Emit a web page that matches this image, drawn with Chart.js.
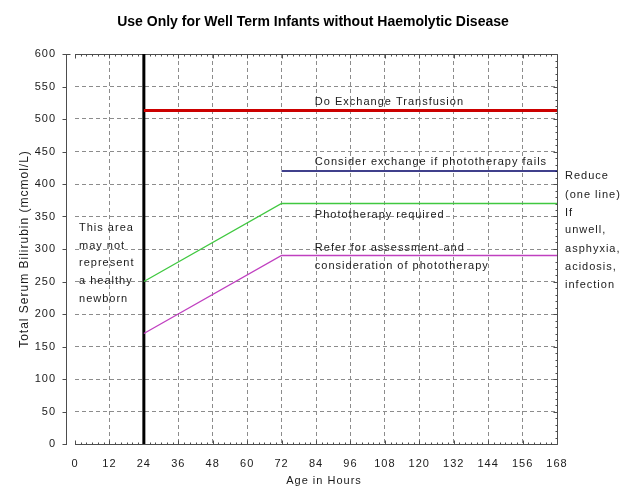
<!DOCTYPE html>
<html>
<head>
<meta charset="utf-8">
<script src="https://cdn.jsdelivr.net/npm/chart.js@4"></script>
<style>
  html, body { margin: 0; padding: 0; background: #fff; }
  canvas { display: block; }
</style>
</head>
<body>
<canvas id="c" width="640" height="502"></canvas>
<script>
// ---- data ----
const titleText = 'Use Only for Well Term Infants without Haemolytic Disease';
const xTitle = 'Age in Hours';
const yTitle = 'Total Serum Bilirubin (mcmol/L)';
const xTicks = [0, 12, 24, 36, 48, 60, 72, 84, 96, 108, 120, 132, 144, 156, 168];
const yTicks = [0, 50, 100, 150, 200, 250, 300, 350, 400, 450, 500, 550, 600];

const exchangeHours = [24, 168];
const exchangeValues = [513, 513];
const considerHours = [72, 168];
const considerValues = [420, 420];
const phototherapyHours = [24, 72, 168];
const phototherapyValues = [250, 370, 370];
const referHours = [24, 72, 168];
const referValues = [170, 290, 290];
const cutoffHours = [24, 24];
const cutoffValues = [0, 600];

const zoneLabels = ['Do Exchange Transfusion', 'Consider exchange if phototherapy fails', 'Phototherapy required', 'Refer for assessment and', 'consideration of phototherapy'];
const leftNote = ['This area', 'may not', 'represent', 'a healthy', 'newborn'];
const rightNote = ['Reduce', '(one line)', 'If', 'unwell,', 'asphyxia,', 'acidosis,', 'infection'];

function pts(xs, ys) { return xs.map((x, i) => ({ x: x, y: ys[i] })); }

const FONT = '"Liberation Sans", Arial, sans-serif';
const TEXT = '#1a1a1a';
const AXIS = '#4d4d4d';

const spacingPlugin = {
  id: 'spacing',
  beforeLayout(chart) { chart.ctx.letterSpacing = '1px'; },
  beforeDraw(chart) { chart.ctx.letterSpacing = '1px'; },
  beforeDatasetsDraw(chart) {
    const { ctx, chartArea: a, scales: { x, y } } = chart;
    ctx.save();
    ctx.strokeStyle = AXIS;
    ctx.lineWidth = 1;
    ctx.setLineDash([]);
    // top border with minor ticks
    const top = Math.round(a.top) + 0.5, right = Math.round(a.right) + 0.5, bottom = Math.round(a.bottom) + 0.5;
    ctx.beginPath();
    ctx.moveTo(a.left, top); ctx.lineTo(right, top);
    ctx.moveTo(right, top); ctx.lineTo(right, bottom);
    ctx.moveTo(a.left, bottom); ctx.lineTo(right, bottom);
    for (let h = 0; h <= 168; h += 2) {
      const px = Math.round(x.getPixelForValue(h)) + 0.5;
      const len = (h % 12 === 0) ? 4 : 2;
      ctx.moveTo(px, top); ctx.lineTo(px, top + len);
      ctx.moveTo(px, bottom); ctx.lineTo(px, bottom - len);
    }
    for (let v = 0; v <= 600; v += 10) {
      const py = Math.round(y.getPixelForValue(v)) + 0.5;
      const len = (v % 50 === 0) ? 4 : 2;
      ctx.moveTo(right, py); ctx.lineTo(right - len, py);
    }
    // detached y axis
    const ax = Math.round(a.left) - 9 + 0.5;
    ctx.moveTo(ax, Math.round(y.getPixelForValue(600))); ctx.lineTo(ax, Math.round(y.getPixelForValue(0)) + 1);
    yTicks.forEach(v => {
      const py = Math.round(y.getPixelForValue(v)) + 0.5;
      ctx.moveTo(ax - 4, py); ctx.lineTo(ax + (v === 600 ? 4 : 0), py);
    });
    ctx.stroke();
    ctx.restore();
  },
  afterDraw(chart) {
    const { ctx, chartArea: a, scales: { x, y } } = chart;
    ctx.save();
    ctx.letterSpacing = '0px';
    ctx.fillStyle = '#000';
    ctx.font = 'bold 14px ' + FONT;
    ctx.textAlign = 'center';
    ctx.textBaseline = 'middle';
    ctx.fillText(titleText, 313, 22);

    ctx.letterSpacing = '1px';
    ctx.font = '11px ' + FONT;
    ctx.fillStyle = TEXT;
    ctx.fillText(xTitle, 324, 481);

    ctx.textAlign = 'left';
    const zoneY = [526, 434, 353, 302, 274];
    zoneLabels.forEach((t, i) => ctx.fillText(t, x.getPixelForValue(83.6), y.getPixelForValue(zoneY[i])));
    const leftY = [333, 305, 278, 251, 223];
    leftNote.forEach((t, i) => ctx.fillText(t, x.getPixelForValue(1.4), y.getPixelForValue(leftY[i])));
    const rightY = [412, 383, 356, 329, 300, 273, 244];
    rightNote.forEach((t, i) => ctx.fillText(t, x.getPixelForValue(170.8), y.getPixelForValue(rightY[i])));
    ctx.restore();
  }
};

const gridColor = '#8c8c8c';

new Chart(document.getElementById('c'), {
  type: 'line',
  data: {
    datasets: [
      { data: pts(referHours, referValues), borderColor: '#c040c0', borderWidth: 1.3 },
      { data: pts(phototherapyHours, phototherapyValues), borderColor: '#40c840', borderWidth: 1.3 },
      { data: pts(considerHours, considerValues), borderColor: '#000066', borderWidth: 1.5 },
      { data: pts(exchangeHours, exchangeValues), borderColor: '#cc0000', borderWidth: 3 },
      { data: pts(cutoffHours, cutoffValues), borderColor: '#000000', borderWidth: 3 }
    ]
  },
  options: {
    responsive: false,
    animation: false,
    devicePixelRatio: 1,
    layout: { padding: { top: 54, right: 83, bottom: 0, left: 0 } },
    elements: { point: { radius: 0, hoverRadius: 0 }, line: { tension: 0 } },
    plugins: { legend: { display: false }, tooltip: { enabled: false }, title: { display: false } },
    events: [],
    scales: {
      x: {
        type: 'linear', min: 0, max: 168,
        afterBuildTicks(s) { s.ticks = xTicks.map(v => ({ value: v })); },
        afterFit(s) { s.height = 58; },
        ticks: { color: TEXT, font: { family: FONT, size: 11 }, padding: 13, maxRotation: 0, autoSkip: false },
        grid: {
          drawTicks: false,
          color: c => (c.tick && (c.tick.value === 0 || c.tick.value === 168)) ? 'rgba(0,0,0,0)' : gridColor,
          lineWidth: 1
        },
        border: { display: false, dash: [4, 3] }
      },
      y: {
        type: 'linear', min: 0, max: 600,
        afterBuildTicks(s) { s.ticks = yTicks.map(v => ({ value: v })); },
        afterFit(s) { s.width = 75; },
        ticks: { color: TEXT, font: { family: FONT, size: 11 }, padding: 19 },
        grid: {
          drawTicks: false,
          color: c => (c.tick && (c.tick.value === 0 || c.tick.value === 600)) ? 'rgba(0,0,0,0)' : gridColor,
          lineWidth: 1
        },
        border: { display: false, dash: [4, 3] },
        title: { display: true, text: yTitle, color: TEXT, font: { family: FONT, size: 12 }, padding: { top: 17, bottom: 0 } }
      }
    }
  },
  plugins: [spacingPlugin]
});
</script>
</body>
</html>
